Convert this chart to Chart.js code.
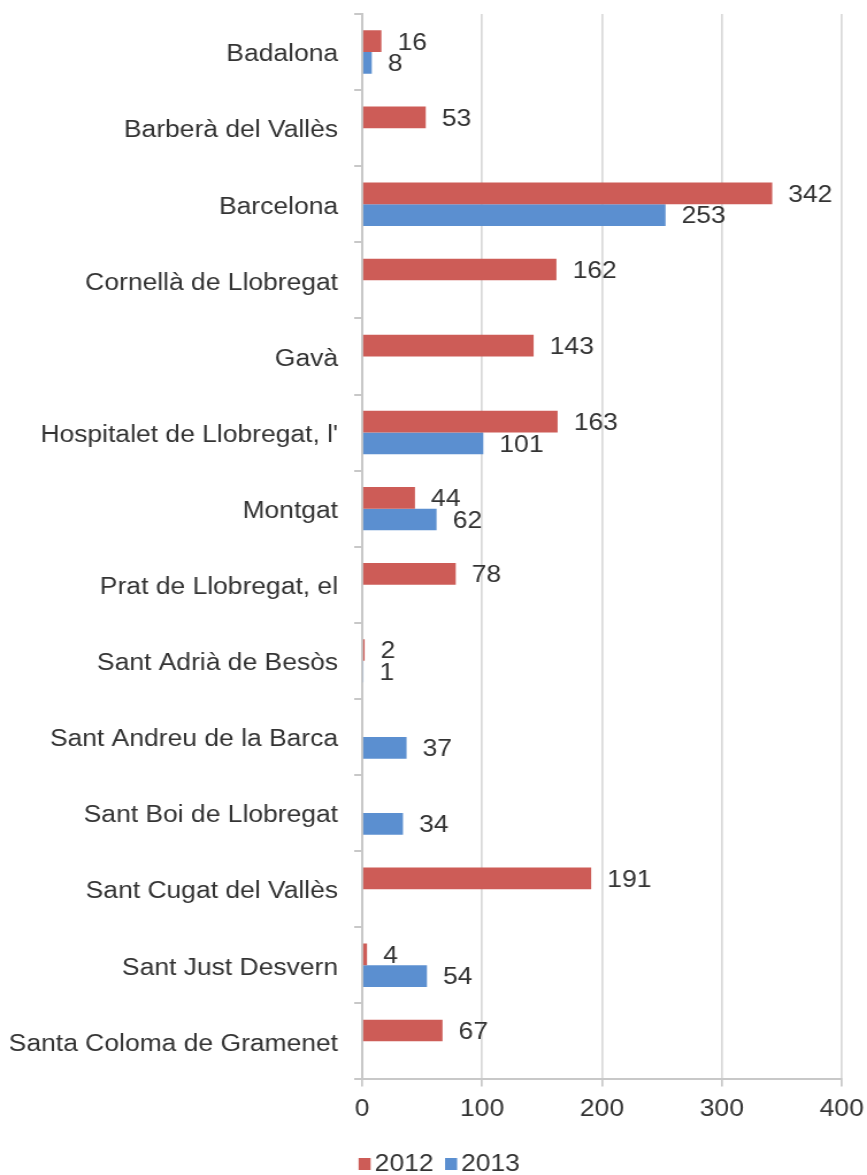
<!DOCTYPE html>
<html>
<head>
<meta charset="utf-8">
<script src="https://cdn.jsdelivr.net/npm/chart.js@4"></script>
<style>
  html, body { margin: 0; padding: 0; background: #fff; overflow: hidden; }
  /* the reference is stretched horizontally, so the chart is drawn narrower and scaled */
  #wrap { width: 754px; height: 1175px; transform: scaleX(1.1499); transform-origin: 0 0; }
</style>
</head>
<body>
<div id="wrap"><canvas id="myChart"></canvas></div>
<script>
const municipis = [
    'Badalona', 'Barberà del Vallès', 'Barcelona', 'Cornellà de Llobregat', 'Gavà',
    "Hospitalet de Llobregat, l'", 'Montgat', 'Prat de Llobregat, el', 'Sant Adrià de Besòs',
    'Sant Andreu de la Barca', 'Sant Boi de Llobregat', 'Sant Cugat del Vallès',
    'Sant Just Desvern', 'Santa Coloma de Gramenet'
];
const valors2012 = [16, 53, 342, 162, 143, 163, 44, 78, 2, null, null, 191, 4, 67];
const valors2013 = [8, null, 253, null, null, 101, 62, null, 1, 37, 34, null, 54, null];
const xTicks = [0, 100, 200, 300, 400];

const textColor = '#333333';
const fontFamily = '"Liberation Sans", Arial, sans-serif';
const font = '23px ' + fontFamily;

// etiquetes de valor a la dreta de cada barra
const valueLabels = {
    id: 'valueLabels',
    afterDatasetsDraw(chart) {
        const ctx = chart.ctx;
        ctx.save();
        ctx.font = font;
        ctx.fillStyle = textColor;
        ctx.textAlign = 'left';
        ctx.textBaseline = 'middle';
        chart.data.datasets.forEach((ds, i) => {
            const meta = chart.getDatasetMeta(i);
            meta.data.forEach((bar, j) => {
                const v = ds.data[j];
                if (v === null || v === undefined) return;
                ctx.fillText(String(v), bar.x + 14, bar.y + 2);
            });
        });
        ctx.restore();
    }
};

// llegenda compacta a sota (quadre enganxat al text, com l'original)
const bottomLegend = {
    id: 'bottomLegend',
    afterDraw(chart) {
        const ctx = chart.ctx;
        ctx.save();
        ctx.font = font;
        ctx.textBaseline = 'middle';
        ctx.textAlign = 'left';
        const box = 10.5, gap = 3.5, itemGap = 10;
        const items = chart.data.datasets.map(ds => ({
            text: ds.label, color: ds.backgroundColor, w: box + gap + ctx.measureText(ds.label).width
        }));
        const total = items.reduce((s, it) => s + it.w, 0) + itemGap * (items.length - 1);
        let x = chart.width / 2 + 5 - total / 2;
        const y = chart.height - 11;
        items.forEach(it => {
            ctx.fillStyle = it.color;
            ctx.fillRect(x, y - 6, box, 12);
            ctx.fillStyle = textColor;
            ctx.fillText(it.text, x + box + gap, y + 1);
            x += it.w + itemGap;
        });
        ctx.restore();
    }
};

const ctx = document.getElementById('myChart').getContext('2d');
new Chart(ctx, {
    type: 'bar',
    data: {
        labels: municipis,
        datasets: [{
            label: '2012',
            data: valors2012,
            backgroundColor: '#CD5C57',
            barPercentage: 1,
            categoryPercentage: 0.57
        }, {
            label: '2013',
            data: valors2013,
            backgroundColor: '#5B8FD0',
            barPercentage: 1,
            categoryPercentage: 0.57
        }]
    },
    options: {
        indexAxis: 'y',
        responsive: true,
        maintainAspectRatio: false,
        animation: false,
        layout: { padding: { top: 14, right: 22, left: 9, bottom: 43 } },
        scales: {
            x: {
                min: 0,
                max: 400,
                afterBuildTicks(axis) {
                    axis.ticks = xTicks.map(v => ({ value: v }));
                },
                afterFit(axis) {
                    axis.paddingLeft = 0;
                    axis.paddingRight = 0;
                },
                grid: {
                    color: '#d9d9d9',
                    lineWidth: 1.7,
                    tickLength: 7,
                    tickColor: '#c8c8c8'
                },
                border: { color: '#c8c8c8', width: 2 },
                ticks: {
                    color: textColor,
                    padding: 9,
                    font: { size: 23, family: fontFamily }
                }
            },
            y: {
                afterFit(axis) {
                    axis.width = 306;
                    axis.paddingTop = 0;
                    axis.paddingBottom = 0;
                },
                grid: {
                    drawOnChartArea: false,
                    tickLength: 7,
                    tickColor: '#c8c8c8',
                    lineWidth: 2
                },
                border: { color: '#c8c8c8', width: 2 },
                ticks: {
                    color: textColor,
                    padding: 14,
                    labelOffset: 3,
                    autoSkip: false,
                    font: { size: 23, family: fontFamily }
                }
            }
        },
        plugins: {
            legend: { display: false },
            tooltip: { enabled: false }
        }
    },
    plugins: [valueLabels, bottomLegend]
});
</script>
</body>
</html>
